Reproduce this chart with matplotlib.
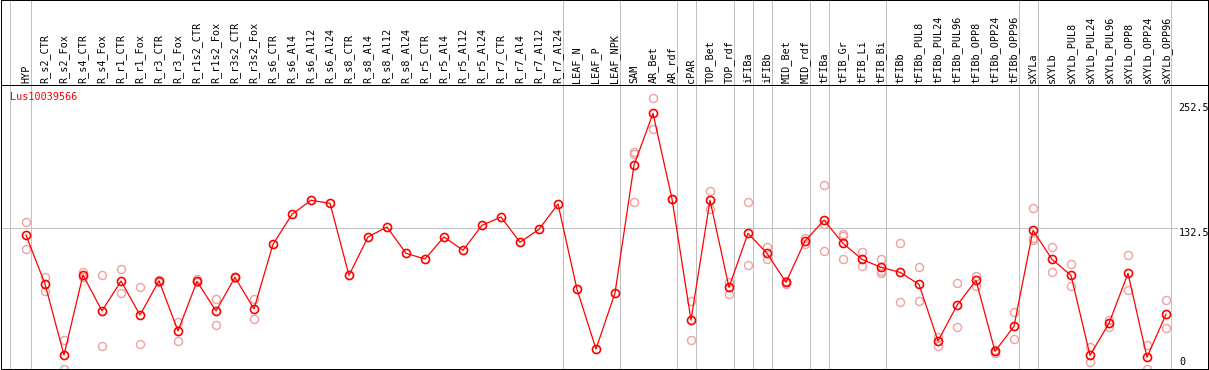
import matplotlib
matplotlib.use("Agg")
import matplotlib.pyplot as plt
import numpy as np

labels = ["HYP", "R_s2_CTR", "R_s2_Fox", "R_s4_CTR", "R_s4_Fox", "R_r1_CTR", "R_r1_Fox",
          "R_r3_CTR", "R_r3_Fox", "R_r1s2_CTR", "R_r1s2_Fox", "R_r3s2_CTR", "R_r3s2_Fox",
          "R_s6_CTR", "R_s6_Al4", "R_s6_Al12", "R_s6_Al24", "R_s8_CTR", "R_s8_Al4",
          "R_s8_Al12", "R_s8_Al24", "R_r5_CTR", "R_r5_Al4", "R_r5_Al12", "R_r5_Al24",
          "R_r7_CTR", "R_r7_Al4", "R_r7_Al12", "R_r7_Al24", "LEAF_N", "LEAF_P", "LEAF_NPK",
          "SAM", "AR_Bet", "AR_rdf", "cPAR", "TOP_Bet", "TOP_rdf", "iFIBa", "iFIBb",
          "MID_Bet", "MID_rdf", "tFIBa", "tFIB_Gr", "tFIB_Li", "tFIB_Bi", "tFIBb",
          "tFIBb_PUL8", "tFIBb_PUL24", "tFIBb_PUL96", "tFIBb_OPP8", "tFIBb_OPP24",
          "tFIBb_OPP96", "sXYLa", "sXYLb", "sXYLb_PUL8", "sXYLb_PUL24", "sXYLb_PUL96",
          "sXYLb_OPP8", "sXYLb_OPP24", "sXYLb_OPP96"]

means = [125.5, 78.3, 10, 87, 52.4, 81.2, 48.5, 81.5, 33.1, 80.9, 52.4, 84.8, 54.3,
         116.6, 145.4, 158.9, 156, 86.7, 123.6, 133.2, 107.9, 102.4, 123.6, 110.8, 134.8,
         142.8, 118.5, 131, 155.3, 73.2, 15.8, 69.7, 192.6, 242.6, 160.2, 43.7, 158.9,
         75.2, 127.1, 107.9, 80, 119.7, 139.7, 117.5, 102.1, 94.4, 89.6, 78, 23.5, 57.8,
         81.9, 13.6, 37.6, 130, 102.1, 86.7, 9.7, 40.5, 88.6, 7.8, 49.2]

replicates = [
    [137.7, 111.7], [84.8, 71.3], [24.4, -3.0], [90.2, 85.4], [87, 18.7],
    [92.5, 69.4], [75.2, 20.3], [82.5, 80.5], [41.5, 23.2], [83.4, 80],
    [64.2, 38.6], [85.5, 84], [63.6, 44.4],
    [], [], [], [], [], [], [], [], [], [], [], [], [], [], [], [], [], [], [],
    [205.7, 203, 157], [257.4, 227.2], [160.5, 159.9], [61.7, 24.4], [167.6, 150.5],
    [80.6, 68.4], [157, 96.3], [114, 102.7], [81.5, 78.5], [122.9, 117],
    [173.3, 135.8, 109.8], [126.5, 124.5, 102.1], [108.9, 96], [102.4, 90.5, 88.6],
    [117.5, 61], [94.4, 61.7], [27.6, 18.7], [79, 36.7], [86, 76.7], [15, 11.7],
    [51.1, 25.1], [151.2, 123, 120.7], [113.7, 90.2], [97.3, 76.1], [17.7, 3],
    [43.7, 37.3], [106.3, 72.6], [19.3, -3.8], [62.7, 35.7],
]

group_sizes = [1, 28, 3, 3, 1, 2, 1, 1, 2, 1, 3, 7, 1, 7]
gene_name = "Lus10039566"
y_ticks = [252.5, 132.5, 0]

FONT = dict(family="DejaVu Sans Mono", size=7.3)

W, H = 1209, 370
fig = plt.figure(figsize=(W / 100, H / 100), dpi=100)

x0_pix, dx_pix = 26.0, 19.0
def px_to_idx(p):
    return (p - x0_pix) / dx_pix

y_base_pix, y_scale = 365.4, 1.039
def pix_to_val(p):
    return (y_base_pix - p) / y_scale

left_pix, right_pix = 1, 1208
top_pix, bottom_pix = 85, 369
header_top = 0

ax = fig.add_axes([left_pix / W, (H - bottom_pix) / H,
                   (right_pix - left_pix) / W, (bottom_pix - top_pix) / H])
axh = fig.add_axes([left_pix / W, (H - top_pix) / H,
                    (right_pix - left_pix) / W, (top_pix - header_top) / H])

xlim = (px_to_idx(left_pix), px_to_idx(right_pix))
ax.set_xlim(*xlim)
ax.set_ylim(pix_to_val(bottom_pix), pix_to_val(top_pix))
axh.set_xlim(*xlim)
axh.set_ylim(0, 1)

for a in (ax, axh):
    a.set_xticks([])
    a.set_yticks([])
    for s in a.spines.values():
        s.set_color("black")
        s.set_linewidth(0.72)
        s.set_antialiased(False)

grey = "#c0c0c0"
ends = np.cumsum(group_sizes) - 1
vlines = [-0.82] + [e + 0.24 for e in ends]
for v in vlines:
    ax.axvline(v, color=grey, lw=0.72, antialiased=False, zorder=1)
    axh.axvline(v, color=grey, lw=0.72, antialiased=False, zorder=1)

ax.hlines(132.5, xlim[0], px_to_idx(1177), color=grey, lw=0.72, antialiased=False, zorder=1)

x = np.arange(len(labels))
rx, ry = [], []
for i, reps in enumerate(replicates):
    for r in reps:
        rx.append(i)
        ry.append(r)
ax.plot(rx, ry, linestyle="none", marker="o", ms=5.8, mfc="none", mec="#f0a0a0",
        mew=1.0, zorder=2, clip_on=True)

ax.plot(x, means, color="#ff0000", lw=0.9, marker="o", ms=5.8, mfc="none",
        mec="#ff0000", mew=1.2, zorder=3)

ax.text(px_to_idx(9.5), pix_to_val(97), gene_name, color="#ff0000", ha="left",
        va="center", **FONT)

for t in y_ticks:
    if t == 0:
        ax.text(px_to_idx(1179), pix_to_val(362), "0", ha="left", va="center", **FONT)
    else:
        ax.text(px_to_idx(1178.5), t, f"{t}", ha="left", va="top", **FONT)

for i, lab in enumerate(labels):
    axh.text(i, 2 / 85, lab, rotation=90, ha="center", va="bottom", **FONT)

fig.savefig("out.png", dpi=100)
